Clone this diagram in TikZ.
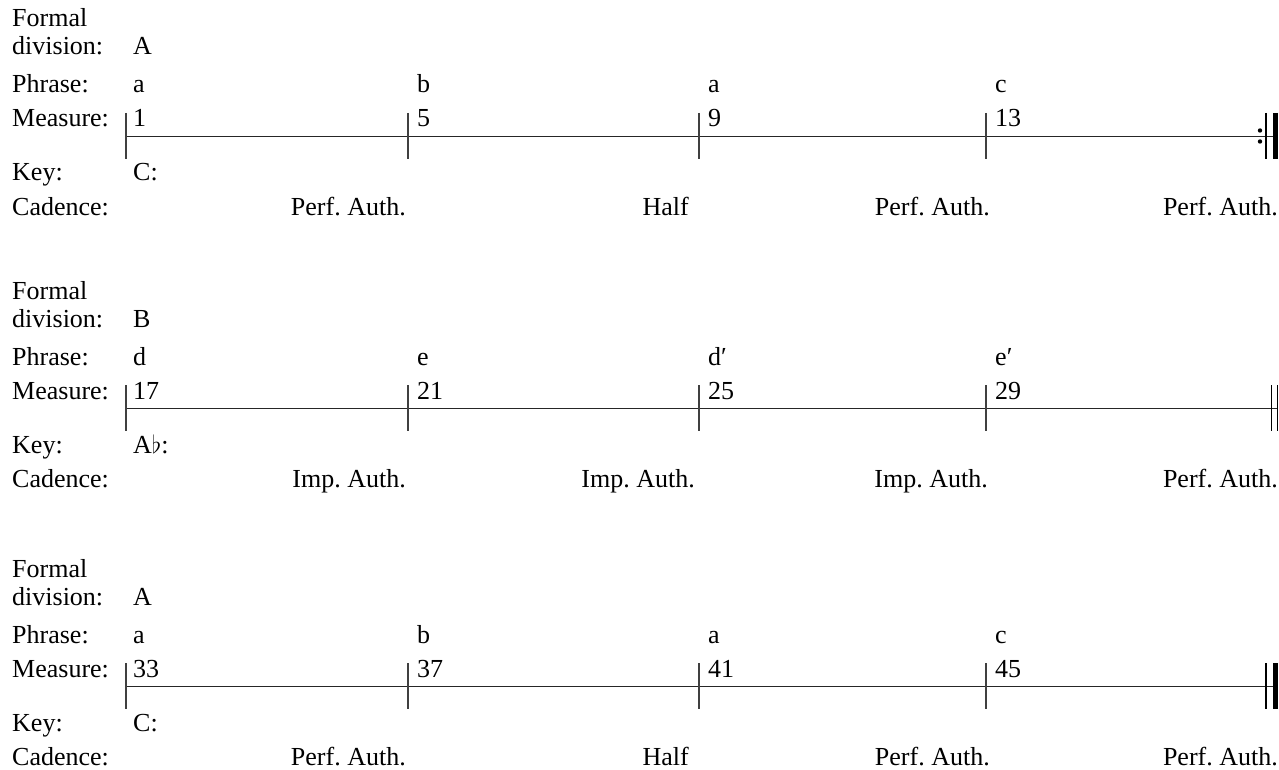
\documentclass[tikz,border=0pt]{standalone}
\usepackage{fontspec}
\setmainfont{Liberation Serif}
\frenchspacing
\newcommand\fs{\fontsize{26}{30}\selectfont}
\tikzset{
  lbl/.style={anchor=base west, inner sep=0pt, font=\fs},
  cad/.style={anchor=base east, inner sep=0pt, font=\fs},
  barmark/.style={line width=1.1pt, draw=black!75},
  timeline/.style={line width=1.1pt, draw=black!85},
  thinbar/.style={line width=1.1pt, draw=black},
  thickbar/.style={line width=5pt, draw=black},
}
\begin{document}
\begin{tikzpicture}[x=1pt,y=-1pt]
\useasboundingbox (0,0) rectangle (1279,770);

% ---------- Section 1 ----------
\begin{scope}
\node[lbl] (s1formal) at (12,27) {Formal};
\node[lbl] (s1division) at (12,55) {division:};
\node[lbl] (s1div) at (133,55) {A};
\node[lbl] (s1phrase) at (12,93) {Phrase:};
\node[lbl] (s1p1) at (133,93) {a};
\node[lbl] (s1p2) at (417,93) {b};
\node[lbl] (s1p3) at (708,93) {a};
\node[lbl] (s1p4) at (995,93) {c};
\node[lbl] (s1measure) at (12,127) {Measure:};
\node[lbl] (s1m1) at (133,127) {1};
\node[lbl] (s1m2) at (417,127) {5};
\node[lbl] (s1m3) at (708,127) {9};
\node[lbl] (s1m4) at (995,127) {13};
\node[lbl] (s1key) at (12,181) {Key:};
\node[lbl] (s1k) at (133,181) {C:};
\node[lbl] (s1cadence) at (12,215) {Cadence:};
\node[cad] (s1c1) at (406,215) {Perf. Auth.};
\node[cad] (s1c2) at (689,215) {Half};
\node[cad] (s1c3) at (990,215) {Perf. Auth.};
\node[cad] (s1c4) at (1278,215) {Perf. Auth.};
\coordinate (s1start) at (126,136.5);
\coordinate (s1end) at (1273,136.5);
\draw[timeline] (s1start) -- (s1end);
\foreach \x [count=\i] in {126,408,699,986}{
  \coordinate (s1t\i a) at (\x,113);
  \coordinate (s1t\i b) at (\x,159);
  \draw[barmark] (s1t\i a) -- (s1t\i b);
}
\coordinate (s1thina) at (1266,113);
\coordinate (s1thinb) at (1266,159);
\coordinate (s1thicka) at (1275.2,113);
\coordinate (s1thickb) at (1275.2,159);
\draw[thinbar] (s1thina) -- (s1thinb);
\draw[thickbar] (s1thicka) -- (s1thickb);
\fill (1260,130.5) circle (2.2);
\fill (1260,141.5) circle (2.2);
\end{scope}

% ---------- Section 2 ----------
\begin{scope}[shift={(0,272)}]
\node[lbl] (s2formal) at (12,27) {Formal};
\node[lbl] (s2division) at (12,55) {division:};
\node[lbl] (s2div) at (133,55) {B};
\node[lbl] (s2phrase) at (12,93) {Phrase:};
\node[lbl] (s2p1) at (133,93) {d};
\node[lbl] (s2p2) at (417,93) {e};
\node[lbl] (s2p3) at (708,93) {d′};
\node[lbl] (s2p4) at (995,93) {e′};
\node[lbl] (s2measure) at (12,127) {Measure:};
\node[lbl] (s2m1) at (133,127) {17};
\node[lbl] (s2m2) at (417,127) {21};
\node[lbl] (s2m3) at (708,127) {25};
\node[lbl] (s2m4) at (995,127) {29};
\node[lbl] (s2key) at (12,181) {Key:};
\node[lbl] (s2k) at (133,181) {A$\flat$:};
\node[lbl] (s2cadence) at (12,215) {Cadence:};
\node[cad] (s2c1) at (406,215) {Imp. Auth.};
\node[cad] (s2c2) at (695,215) {Imp. Auth.};
\node[cad] (s2c3) at (988,215) {Imp. Auth.};
\node[cad] (s2c4) at (1278,215) {Perf. Auth.};
\coordinate (s2start) at (126,136.5);
\coordinate (s2end) at (1277,136.5);
\draw[timeline] (s2start) -- (s2end);
\foreach \x [count=\i] in {126,408,699,986}{
  \coordinate (s2t\i a) at (\x,113);
  \coordinate (s2t\i b) at (\x,159);
  \draw[barmark] (s2t\i a) -- (s2t\i b);
}
\coordinate (s2bara) at (1271.7,113);
\coordinate (s2barb) at (1271.7,159);
\coordinate (s2barc) at (1277.3,113);
\coordinate (s2bard) at (1277.3,159);
\draw[thinbar] (s2bara) -- (s2barb);
\draw[thinbar] (s2barc) -- (s2bard);
\end{scope}

% ---------- Section 3 ----------
\begin{scope}[shift={(0,550)}]
\node[lbl] (s3formal) at (12,27) {Formal};
\node[lbl] (s3division) at (12,55) {division:};
\node[lbl] (s3div) at (133,55) {A};
\node[lbl] (s3phrase) at (12,93) {Phrase:};
\node[lbl] (s3p1) at (133,93) {a};
\node[lbl] (s3p2) at (417,93) {b};
\node[lbl] (s3p3) at (708,93) {a};
\node[lbl] (s3p4) at (995,93) {c};
\node[lbl] (s3measure) at (12,127) {Measure:};
\node[lbl] (s3m1) at (133,127) {33};
\node[lbl] (s3m2) at (417,127) {37};
\node[lbl] (s3m3) at (708,127) {41};
\node[lbl] (s3m4) at (995,127) {45};
\node[lbl] (s3key) at (12,181) {Key:};
\node[lbl] (s3k) at (133,181) {C:};
\node[lbl] (s3cadence) at (12,215) {Cadence:};
\node[cad] (s3c1) at (406,215) {Perf. Auth.};
\node[cad] (s3c2) at (689,215) {Half};
\node[cad] (s3c3) at (990,215) {Perf. Auth.};
\node[cad] (s3c4) at (1278,215) {Perf. Auth.};
\coordinate (s3start) at (126,136.5);
\coordinate (s3end) at (1273,136.5);
\draw[timeline] (s3start) -- (s3end);
\foreach \x [count=\i] in {126,408,699,986}{
  \coordinate (s3t\i a) at (\x,113);
  \coordinate (s3t\i b) at (\x,159);
  \draw[barmark] (s3t\i a) -- (s3t\i b);
}
\coordinate (s3thina) at (1266,113);
\coordinate (s3thinb) at (1266,159);
\coordinate (s3thicka) at (1275.2,113);
\coordinate (s3thickb) at (1275.2,159);
\draw[thinbar] (s3thina) -- (s3thinb);
\draw[thickbar] (s3thicka) -- (s3thickb);
\end{scope}
\end{tikzpicture}
\end{document}
